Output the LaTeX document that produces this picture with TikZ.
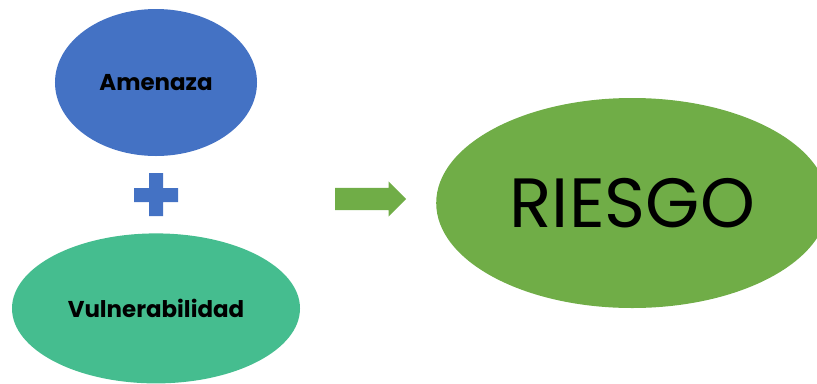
\documentclass[tikz,border=0pt]{standalone}
\usepackage{fontspec}
\setmainfont{Poppins}
\usetikzlibrary{positioning,shapes.geometric,shapes.arrows}
\definecolor{azul}{HTML}{4472C4}
\definecolor{turquesa}{HTML}{45BD8F}
\definecolor{verde}{HTML}{70AD47}
\begin{document}
\begin{tikzpicture}[x=1bp,y=-1bp,node distance=77bp]
  \tikzstyle{burbuja}=[ellipse,inner sep=0pt,align=center,text=black]
  \useasboundingbox (0,0) rectangle (817,383);
  \node[burbuja,fill=azul,minimum width=202bp,minimum height=147bp,font=\fontsize{23}{26}\selectfont\bfseries] (amenaza) at (156,82.5) {Amenaza};
  \node[burbuja,fill=turquesa,minimum width=288bp,minimum height=150bp,font=\fontsize{23}{26}\selectfont\bfseries,below=77bp of amenaza] (vulner) {Vulnerabilidad};
  % signo mas
  \fill[azul] (134,188) rectangle (178,202) (149,173) rectangle (163,216);
  \node[single arrow,fill=verde,inner xsep=0pt,inner ysep=11bp,minimum height=71bp,single arrow head extend=6.5bp,anchor=tail] (flecha) at (335,199) {};
  \node[burbuja,fill=verde,minimum width=392bp,minimum height=210bp,font=\fontsize{70}{74}\selectfont,anchor=west] (riesgo) at (436,203) {RIESGO};
\end{tikzpicture}
\end{document}
